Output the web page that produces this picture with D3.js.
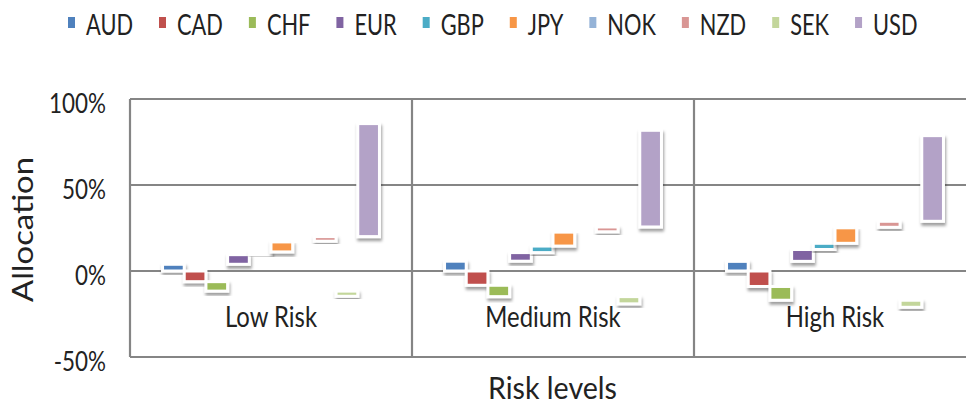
<!DOCTYPE html>
<html>
<head>
<meta charset="utf-8">
<script src="https://cdn.jsdelivr.net/npm/d3@7/dist/d3.min.js"></script>
<style>
  html, body { margin: 0; padding: 0; background: #fff; }
  svg { display: block; }
  text { font-family: Lato, "Open Sans", sans-serif; fill: #222; }
</style>
</head>
<body>
<svg id="chart" width="966" height="405"></svg>
<script>
// ---------- data (allocation in %) ----------
const riskLevels = ["Low Risk", "Medium Risk", "High Risk"];
const currencies = ["AUD", "CAD", "CHF", "EUR", "GBP", "JPY", "NOK", "NZD", "SEK", "USD"];
const lowRisk    = [3.9, -6.2, -5.5, 5.6, 1.6, 5.8, 0.4, 2.7, -3.0, 65.7];
const mediumRisk = [5.7, -8.3, -6.6, 5.0, 3.8, 8.1, 0.2, 2.8, -4.2, 56.2];
const highRisk   = [5.6, -9.0, -8.0, 6.9, 3.6, 9.0, 0.3, 3.5, -4.1, 49.8];
const yTicks = [-50, 0, 50, 100];
const colors = ["#4F81BD", "#C0504D", "#9BBB59", "#8064A2", "#4BACC6",
                "#F79646", "#95B3D7", "#D99694", "#C3D69B", "#B3A2C7"];

// ---------- layout ----------
const svg = d3.select("#chart");
const plot = { left: 130, right: 976, top: 99, bottom: 357 };

const series = [lowRisk, mediumRisk, highRisk];
const rows = riskLevels.map((r, i) => {
  const o = { risk: r };
  currencies.forEach((c, j) => { o[c] = series[i][j]; });
  return o;
});
const stacked = d3.stack().keys(currencies).offset(d3.stackOffsetDiverging)(rows);

const y = d3.scaleLinear().domain([-50, 100]).range([plot.bottom, plot.top]);
const x0 = d3.scaleBand().domain(riskLevels).range([plot.left, plot.right]).padding(0);
const x1 = d3.scaleBand().domain(currencies).range([0, x0.bandwidth()])
  .paddingInner(0).paddingOuter(1.5);
const color = d3.scaleOrdinal().domain(currencies).range(colors);

// shadow filter
const defs = svg.append("defs");
const f = defs.append("filter").attr("id", "shadow")
  .attr("x", "-50%").attr("y", "-50%").attr("width", "200%").attr("height", "200%");
f.append("feDropShadow").attr("dx", 1).attr("dy", 3).attr("stdDeviation", 1.6)
  .attr("flood-color", "#000").attr("flood-opacity", 0.38);

// gridlines
const gridColor = "#858585";
svg.append("g").selectAll("line.h").data(yTicks).join("line")
  .attr("x1", plot.left).attr("x2", plot.right)
  .attr("y1", d => y(d)).attr("y2", d => y(d))
  .attr("stroke", gridColor).attr("stroke-width", 2.2);
const vx = riskLevels.map(r => x0(r)).concat([plot.right]);
svg.append("g").selectAll("line.v").data(vx).join("line")
  .attr("x1", d => d).attr("x2", d => d)
  .attr("y1", plot.top).attr("y2", plot.bottom)
  .attr("stroke", gridColor).attr("stroke-width", 2.2);

// bars
const barG = svg.append("g");
stacked.forEach(s => {
  barG.append("g").selectAll("rect").data(s).join("rect")
    .attr("x", d => x0(d.data.risk) + x1(s.key))
    .attr("width", x1.bandwidth())
    .attr("y", d => y(Math.max(d[0], d[1])))
    .attr("height", d => Math.abs(y(d[0]) - y(d[1])))
    .attr("fill", color(s.key))
    .attr("stroke", "#fff").attr("stroke-width", 3)
    .attr("filter", "url(#shadow)");
});

// helper: text compressed horizontally to a given width
function fitted(parent, str, x, yb, size, width, anchor) {
  const t = parent.append("text").attr("x", x).attr("y", yb)
    .attr("font-size", size).attr("text-anchor", anchor || "start").text(str);
  if (width) t.attr("textLength", width).attr("lengthAdjust", "spacingAndGlyphs");
  return t;
}
function measure(str, size) {
  const t = svg.append("text").attr("font-size", size).text(str);
  const w = t.node().getComputedTextLength();
  t.remove();
  return w;
}

// y tick labels
const tickSize = 26;
const tickScale = 57 / measure("100%", tickSize);
yTicks.forEach(v => {
  const s = v + "%";
  fitted(svg, s, 106, y(v) + 14, tickSize, measure(s, tickSize) * tickScale, "end");
});

// category labels
const catSize = 29;
const catScale = 92 / measure("Low Risk", catSize);
riskLevels.forEach(r => {
  fitted(svg, r, x0(r) + x0.bandwidth() / 2, 327, catSize,
         measure(r, catSize) * catScale, "middle");
});

// axis titles
fitted(svg, "Risk levels", 552.5, 399, 30, 129, "middle");
const at = svg.append("g").attr("transform", "translate(33,229.5) rotate(-90)");
fitted(at, "Allocation", 0, 0, 28, 145, "middle");

// legend
const legSize = 28;
const legScale = 47 / measure("AUD", legSize);
let lx = 68;
const legG = svg.append("g");
currencies.forEach(c => {
  legG.append("rect").attr("x", lx).attr("y", 17).attr("width", 7).attr("height", 11)
    .attr("fill", color(c));
  const w = measure(c, legSize) * legScale;
  fitted(legG, c, lx + 18, 35, legSize, w, "start");
  lx += 18 + w + 26;
});
</script>
</body>
</html>
